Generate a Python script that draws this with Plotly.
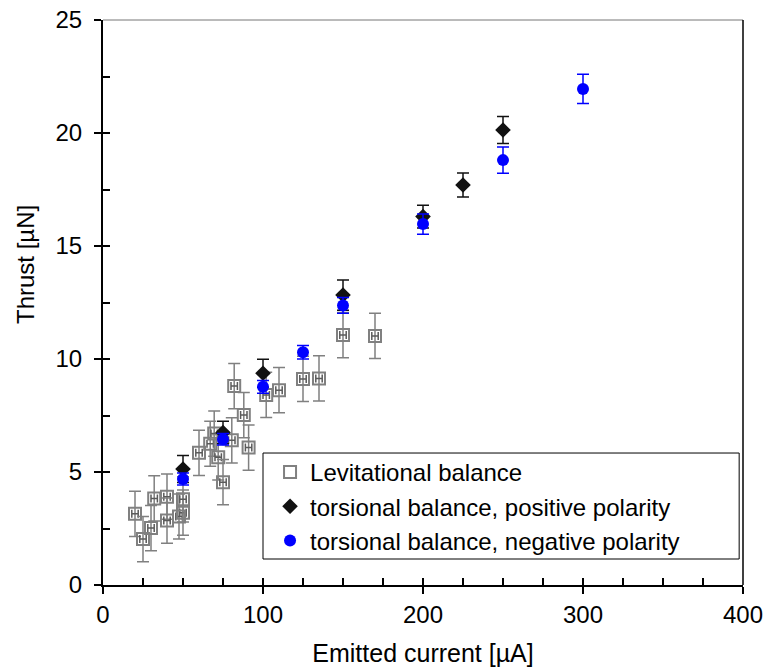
import plotly.graph_objects as go

# Levitational balance measurements (emitted current in µA, thrust in µN)
lev_current = [20, 25, 30, 32, 40, 40, 47.5, 50, 50, 60, 67, 69.5, 72, 75,
               80.5, 82, 88, 91, 102, 110, 125, 135, 150, 170]
lev_thrust = [3.15, 2.03, 2.52, 3.83, 3.91, 2.85, 3.03, 3.2, 3.79, 5.85, 6.25,
              6.7, 5.65, 4.55, 6.4, 8.8, 7.52, 6.08, 8.41, 8.62, 9.12, 9.14,
              11.06, 11.02]
lev_thrust_err = [1.0] * len(lev_thrust)
lev_current_err = [2.0] * len(lev_current)

# Torsional balance, positive polarity
pos_current = [50, 75, 100, 150, 200, 225, 250]
pos_thrust = [5.13, 6.75, 9.37, 12.83, 16.3, 17.7, 20.13]
pos_err = [0.6, 0.5, 0.62, 0.67, 0.5, 0.53, 0.6]

# Torsional balance, negative polarity
neg_current = [50, 75, 100, 125, 150, 200, 250, 300]
neg_thrust = [4.69, 6.45, 8.77, 10.3, 12.37, 15.97, 18.8, 21.95]
neg_err = [0.27, 0.25, 0.28, 0.3, 0.35, 0.45, 0.58, 0.65]

FONT = "Liberation Sans, Arial, sans-serif"

fig = go.Figure()

fig.add_trace(go.Scatter(
    x=lev_current, y=lev_thrust, mode="markers",
    name="Levitational balance",
    marker=dict(symbol="square-open", size=12, color="#808080",
                line=dict(width=2, color="#808080")),
    error_y=dict(type="data", array=lev_thrust_err, color="#808080",
                 thickness=1.5, width=6),
    error_x=dict(type="data", array=lev_current_err, color="#5a5a5a",
                 thickness=1.5, width=4),
))

fig.add_trace(go.Scatter(
    x=pos_current, y=pos_thrust, mode="markers",
    name="torsional balance, positive polarity",
    marker=dict(symbol="diamond", size=12, color="#111111"),
    error_y=dict(type="data", array=pos_err, color="#111111",
                 thickness=1.5, width=6),
))

fig.add_trace(go.Scatter(
    x=neg_current, y=neg_thrust, mode="markers",
    name="torsional balance, negative polarity",
    marker=dict(symbol="circle", size=12, color="#0000FF"),
    error_y=dict(type="data", array=neg_err, color="#0000FF",
                 thickness=1.5, width=6),
))

# Empty trace that carries the overlay axes used for inside ticks
fig.add_trace(go.Scatter(x=[], y=[], xaxis="x2", yaxis="y2",
                         showlegend=False, hoverinfo="skip"))

axis_common = dict(showgrid=False, zeroline=False, ticks="outside",
                   ticklen=7, tickwidth=1.5, tickcolor="black",
                   showline=True, linecolor="black", linewidth=2,
                   automargin=False,
                   tickfont=dict(family=FONT, size=24, color="black"))

fig.update_layout(
    width=767, height=667,
    margin=dict(l=103, r=24, t=20, b=82, autoexpand=False),
    paper_bgcolor="white", plot_bgcolor="white",
    font=dict(family=FONT, size=24, color="black"),
    xaxis=dict(range=[0, 400], dtick=100, tick0=0,
               title=dict(text="Emitted current [µA]",
                          font=dict(family=FONT, size=25), standoff=22),
               **axis_common),
    yaxis=dict(range=[0, 25], dtick=5, tick0=0, ticklabelstandoff=7,
               **axis_common),
    xaxis2=dict(overlaying="x", matches="x", anchor="y2", side="bottom",
                ticks="inside", dtick=25, tick0=0, ticklen=7, tickwidth=1.5,
                tickcolor="black", showticklabels=False, showline=False,
                showgrid=False, zeroline=False, range=[0, 400]),
    yaxis2=dict(overlaying="y", matches="y", anchor="x2", side="left",
                ticks="inside", dtick=2.5, tick0=0, ticklen=7, tickwidth=1.5,
                tickcolor="black", showticklabels=False, showline=False,
                showgrid=False, zeroline=False, range=[0, 25]),
    legend=dict(x=0.261, y=0.239, xanchor="left", yanchor="top",
                bgcolor="rgba(0,0,0,0)", borderwidth=0,
                font=dict(family=FONT, size=24, color="black"),
                itemwidth=30, tracegroupgap=0),
    showlegend=True,
)

# Legend frame
fig.add_shape(type="rect", xref="paper", yref="paper",
              x0=0.25, x1=0.994, y0=0.046, y1=0.2336, layer="above",
              fillcolor="white", line=dict(color="black", width=1))

# Frame lines along the top and right of the plotting area
fig.add_shape(type="line", xref="paper", yref="paper", x0=0, x1=1, y0=1, y1=1,
              line=dict(color="#777777", width=1))
fig.add_shape(type="line", xref="paper", yref="paper", x0=1, x1=1, y0=0, y1=1,
              line=dict(color="black", width=1.5))

# Vertical axis title, placed a little above the axis midpoint
fig.add_annotation(text="Thrust [µN]", xref="paper", yref="paper",
                   x=-0.122, y=0.568, xanchor="center", yanchor="middle",
                   textangle=-90, showarrow=False,
                   font=dict(family=FONT, size=24, color="black"))

fig.write_html("out.html")
